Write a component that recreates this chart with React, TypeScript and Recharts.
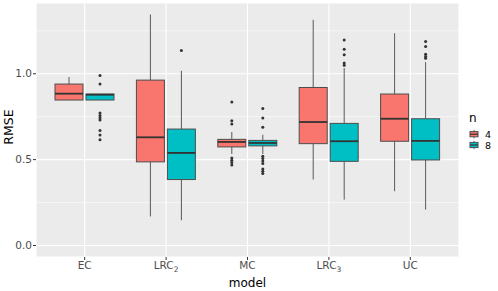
import { ComposedChart, Bar, XAxis, YAxis, CartesianGrid, Customized } from "recharts";

const models = ["EC", "LRC2", "MC", "LRC3", "UC"];
const tickBase = ["EC", "LRC", "MC", "LRC", "UC"];
const tickSub = ["", "2", "", "3", ""];
const yTicks = [0, 0.5, 1];
const yMinor = [0.25, 0.75, 1.25];

// n = 4
const n4Low = [0.847, 0.169, 0.533, 0.384, 0.316];
const n4Q1 = [0.847, 0.487, 0.574, 0.593, 0.607];
const n4Median = [0.884, 0.63, 0.603, 0.719, 0.738];
const n4Q3 = [0.94, 0.963, 0.618, 0.92, 0.882];
const n4High = [0.981, 1.345, 0.661, 1.314, 1.236];
const n4Outliers = [[], [], [0.835, 0.727, 0.708, 0.51, 0.496, 0.483, 0.469], [], []];

// n = 8
const n8Low = [0.847, 0.147, 0.533, 0.267, 0.209];
const n8Q1 = [0.847, 0.384, 0.58, 0.49, 0.498];
const n8Median = [0.878, 0.539, 0.597, 0.607, 0.609];
const n8Q3 = [0.882, 0.678, 0.612, 0.711, 0.738];
const n8High = [0.882, 1.017, 0.645, 1.033, 1.068];
const n8Outliers = [
  [0.99, 0.94, 0.771, 0.757, 0.744, 0.731, 0.67, 0.643, 0.616],
  [1.136],
  [0.798, 0.742, 0.688, 0.519, 0.506, 0.492, 0.478, 0.446, 0.432, 0.419],
  [1.196, 1.143, 1.11, 1.062, 1.05],
  [1.188, 1.159, 1.114, 1.1, 1.091],
];

const RED = "#F8766D";
const TEAL = "#00BFC4";
const DARK = "#333333";

type Stats = { lo: number; q1: number; med: number; q3: number; hi: number; out: number[] };

const stats = (lo: number[], q1: number[], med: number[], q3: number[], hi: number[], out: number[][], i: number): Stats => ({
  lo: lo[i], q1: q1[i], med: med[i], q3: q3[i], hi: hi[i], out: out[i],
});

const data = models.map((model, i) => {
  const s4 = stats(n4Low, n4Q1, n4Median, n4Q3, n4High, n4Outliers, i);
  const s8 = stats(n8Low, n8Q1, n8Median, n8Q3, n8High, n8Outliers, i);
  const span = (s: Stats) => [Math.min(s.lo, ...s.out), Math.max(s.hi, ...s.out)];
  return { model, s4, s8, r4: span(s4), r8: span(s8) };
});

// bar covers the full range of a group; the rest is placed inside it on the same linear scale
function boxShape(key: "s4" | "s8", rangeKey: "r4" | "r8", fill: string) {
  return (props: any) => {
    const { x, y, width, height, payload } = props;
    const s: Stats = payload[key];
    const [lo, hi] = payload[rangeKey];
    const top = Math.min(y, y + height);
    const h = Math.abs(height);
    const py = (v: number) => top + (h * (hi - v)) / (hi - lo);
    const cx = x + width / 2;
    return (
      <g>
        <line x1={cx} x2={cx} y1={py(s.hi)} y2={py(s.q3)} stroke={DARK} strokeWidth={0.8} />
        <line x1={cx} x2={cx} y1={py(s.q1)} y2={py(s.lo)} stroke={DARK} strokeWidth={0.8} />
        <rect x={x} y={py(s.q3)} width={width} height={py(s.q1) - py(s.q3)} fill={fill} stroke="#4d4d4d" strokeWidth={1} />
        <line x1={x} x2={x + width} y1={py(s.med)} y2={py(s.med)} stroke={DARK} strokeWidth={1.8} />
        {s.out.map((v, j) => (
          <circle key={j} cx={cx} cy={py(v)} r={1.5} fill={DARK} />
        ))}
      </g>
    );
  };
}

const XTick = (props: any) => {
  const { x, y, index } = props;
  return (
    <text x={x} y={y} dy="0.71em" textAnchor="middle" fill="#4D4D4D" fontSize={10.5}>
      {tickBase[index]}
      {tickSub[index] && (
        <tspan fontSize={7.5} dy={3}>
          {tickSub[index]}
        </tspan>
      )}
    </text>
  );
};

const LegendKey = ({ y, fill }: { y: number; fill: string }) => (
  <g>
    <line x1={474} x2={474} y1={y - 4.2} y2={y + 4.2} stroke={DARK} strokeWidth={0.8} />
    <rect x={470} y={y - 2.6} width={8} height={5.2} fill={fill} stroke="#4d4d4d" strokeWidth={1} />
    <line x1={470} x2={478} y1={y} y2={y} stroke={DARK} strokeWidth={1.2} />
  </g>
);

const LegendBlock = () => (
  <g>
    <text x={469} y={121.5} fontSize={12} fill="#000">n</text>
    <LegendKey y={134.2} fill={RED} />
    <LegendKey y={145} fill={TEAL} />
    <text x={485} y={138.3} fontSize={9.5} fill="#000">4</text>
    <text x={485} y={149.2} fontSize={9.5} fill="#000">8</text>
  </g>
);

export default function App() {
  return (
    <div style={{ position: "absolute", left: 0, top: 0, fontFamily: "'DejaVu Sans', sans-serif", background: "#fff" }}>
      <ComposedChart width={498} height={291} data={data} margin={{ top: 3, right: 39, bottom: 0, left: 0 }} barSize={28} barGap={3}>
        <CartesianGrid fill="#EBEBEB" stroke="#FFFFFF" strokeWidth={0.55} vertical={false} horizontalValues={yMinor} />
        <CartesianGrid fill="none" stroke="#FFFFFF" strokeWidth={1.1} />
        <XAxis
          dataKey="model"
          type="category"
          padding={{ left: 8, right: 8 }}
          height={34}
          axisLine={false}
          tickLine={{ stroke: DARK }}
          tickSize={3}
          tick={<XTick />}
          interval={0}
          label={() => (
            <text x={247.5} y={286.5} textAnchor="middle" fontSize={12} fill="#000">model</text>
          )}
        />
        <YAxis
          type="number"
          domain={[-0.067, 1.412]}
          ticks={yTicks}
          width={36}
          axisLine={false}
          tickLine={{ stroke: DARK }}
          tickSize={3}
          tickMargin={1}
          tick={{ fill: "#4D4D4D", fontSize: 10.5 }}
          tickFormatter={(v: number) => v.toFixed(1)}
          label={() => (
            <text x={13} y={127} transform="rotate(-90, 13, 127)" textAnchor="middle" fontSize={12.5} fill="#000">RMSE</text>
          )}
        />
        <Bar dataKey="r4" shape={boxShape("s4", "r4", RED)} isAnimationActive={false} />
        <Bar dataKey="r8" shape={boxShape("s8", "r8", TEAL)} isAnimationActive={false} />
        <Customized component={LegendBlock} />
      </ComposedChart>
    </div>
  );
}
